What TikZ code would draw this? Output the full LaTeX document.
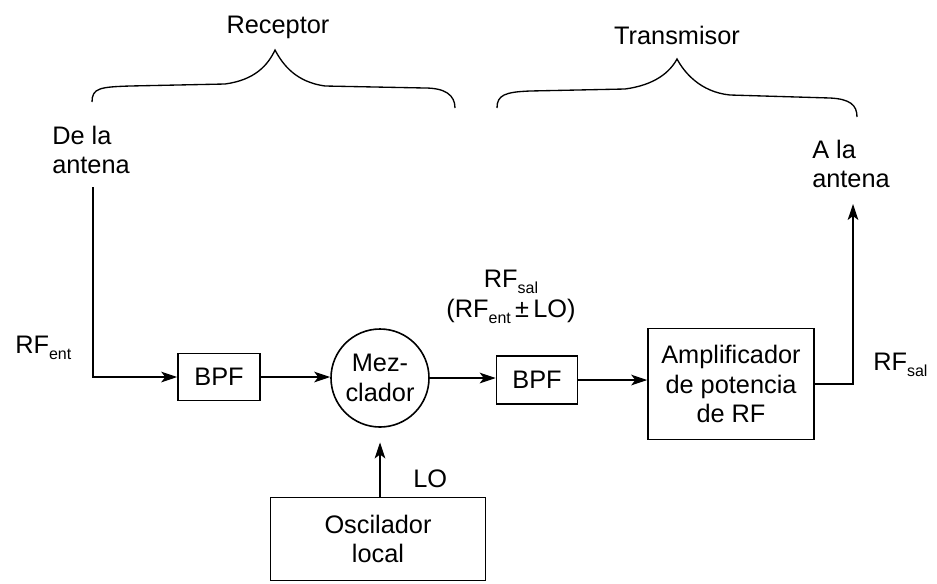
\documentclass[tikz,border=0pt]{standalone}
\usepackage{fontspec}
\setmainfont{Liberation Sans}
\usetikzlibrary{arrows.meta,shapes.geometric}
\newcommand\subtx[1]{\raisebox{-5pt}{\fontsize{12}{12}\selectfont #1}}
\begin{document}
\begin{tikzpicture}[x=0.75pt,y=-0.75pt,
  every node/.style={font=\fontsize{19}{22}\selectfont, inner sep=0pt},
  blk/.style={draw, line width=1.2pt, align=center},
  wire/.style={line width=0.8pt},
  arr/.style={wire, -{Stealth[length=12pt,width=8pt,inset=3pt]}},
  brace/.style={line width=1pt}]
\useasboundingbox (0,0) rectangle (937,583);

% braces
\draw[brace] (92,102) .. controls (92,88) and (100,87) .. (130,86) -- (225,84)
  .. controls (255,80) and (268,65) .. (275,50)
  .. controls (283,65) and (296,82) .. (325,86) -- (425,88)
  .. controls (445,88) and (455,95) .. (455,108);
\draw[brace] (497,108) .. controls (497,95) and (505,92) .. (530,91) -- (625,89)
  .. controls (655,85) and (670,72) .. (677,59)
  .. controls (684,72) and (700,92) .. (730,95) -- (830,98)
  .. controls (850,99) and (857,105) .. (857,117);

\node (rec) at (278,27) {Receptor};
\node (tra) at (677,35) {Transmisor};

\node[anchor=west, align=left] (dela) at (52,150) {De la\\antena};
\node[anchor=west, align=left] (ala) at (812,164) {A la\\antena};

% blocks
\node[blk, minimum width=61.5pt, minimum height=35pt] (bpf1) at (219,377) {BPF};
\node[blk, circle, minimum size=73.5pt] (mix) at (380,378) {Mez-\\clador};
\node[blk, minimum width=60.75pt, minimum height=36pt] (bpf2) at (537,380) {BPF};
\node[blk, minimum width=124.5pt, minimum height=83pt] (amp) at (731,384) {Amplificador\\de potencia\\de RF};
\node[blk, minimum width=161pt, minimum height=62pt] (osc) at (378,539) {Oscilador\\local};

% labels
\node[anchor=base west] (rfent) at (15,353) {RF\subtx{ent}};
\node[anchor=base west] (rfsal2) at (873,370) {RF\subtx{sal}};
\node[anchor=base] (rfsal1) at (511,287) {RF\subtx{sal}};
\node[anchor=base] (rfmix) at (511,317) {(RF\subtx{ent}\,±\,LO)};
\node[anchor=base west] (lo) at (413,487) {LO};

% connectors
\coordinate (antin) at (93,187);
\coordinate (antout) at (853,204);
\draw[arr] (antin) |- (bpf1.west);
\draw[arr] (bpf1.east) -- (bpf1.east -| mix.west);
\draw[arr] (mix.east) -- (mix.east -| bpf2.west);
\draw[arr] (bpf2.east) -- (bpf2.east -| amp.west);
\draw[arr] (amp.east) -| (antout);
\draw[arr, shorten >=11pt] (osc.north -| mix.south) -- (mix.south);
\end{tikzpicture}
\end{document}
